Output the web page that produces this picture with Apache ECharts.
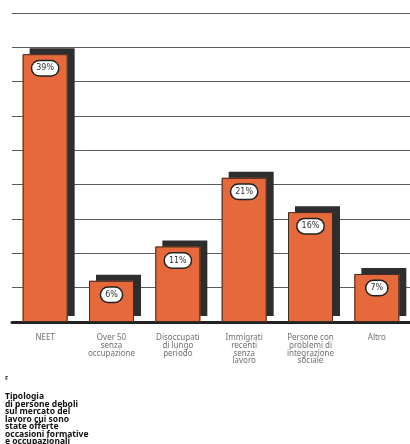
<!DOCTYPE html>
<html>
<head>
<meta charset="utf-8">
<script src="https://cdn.jsdelivr.net/npm/echarts@6/dist/echarts.min.js"></script>
<style>html,body{margin:0;padding:0;background:#fff}#c{width:410px;height:444px}</style>
</head>
<body>
<div id="c"></div>
<script>
const categories = ['NEET', 'Over 50\nsenza\noccupazione', 'Disoccupati\ndi lungo\nperiodo', 'Immigrati\nrecenti\nsenza\nlavoro', 'Persone con\nproblemi di\nintegrazione\nsociale', 'Altro'];
const values = [39, 6, 11, 21, 16, 7];
const chartLetter = 'F';
const chartTitle = 'Tipologia\ndi persone deboli\nsul mercato del\nlavoro cui sono\nstate offerte\noccasioni formative\ne occupazionali';

const chart = echarts.init(document.getElementById('c'), null, {renderer: 'canvas'});
chart.setOption({
  animation: false,
  backgroundColor: '#fff',
  title: [
    {text: chartLetter, left: 5, top: 375, padding: 0, textStyle: {fontSize: 6, fontWeight: 'bold', color: '#222', fontFamily: 'Noto Sans'}},
    {text: chartTitle, left: 5, top: 393, padding: 0, textStyle: {fontSize: 8.5, fontWeight: 'bold', color: '#111', lineHeight: 7.5, fontFamily: 'Noto Sans'}}
  ],
  grid: {left: 12, right: 0, top: 13, bottom: 122},
  xAxis: {
    type: 'category',
    data: categories,
    axisTick: {show: false},
    axisLine: {show: true, lineStyle: {color: '#222', width: 3}},
    axisLabel: {interval: 0, margin: 12, fontSize: 8, lineHeight: 7.7, color: '#707070', fontFamily: 'Noto Sans', align: 'center'}
  },
  yAxis: {
    type: 'value', min: 0, max: 45, interval: 5,
    axisLabel: {show: false}, axisLine: {show: false}, axisTick: {show: false},
    splitLine: {lineStyle: {color: '#5a5a5a', width: 1}}
  },
  series: [{
    type: 'bar',
    data: values,
    barWidth: 45,
    itemStyle: {
      color: '#e6693c', borderWidth: 0,
      shadowColor: '#2e2e2e', shadowBlur: 0, shadowOffsetX: 7, shadowOffsetY: -6
    }
  }, {
    type: 'bar',
    data: values,
    barWidth: 45,
    barGap: '-100%',
    itemStyle: {color: 'rgba(0,0,0,0)', borderColor: '#3a2a22', borderWidth: 1},
    label: {
      show: true, position: 'insideTop', distance: 7,
      formatter: '{c}%', fontSize: 8, color: '#333', fontFamily: 'DejaVu Sans',
      backgroundColor: '#fff', borderColor: '#222', borderWidth: 1.5, borderRadius: 10,
      padding: [3, 4]
    }
  }]
});
</script>
</body>
</html>
